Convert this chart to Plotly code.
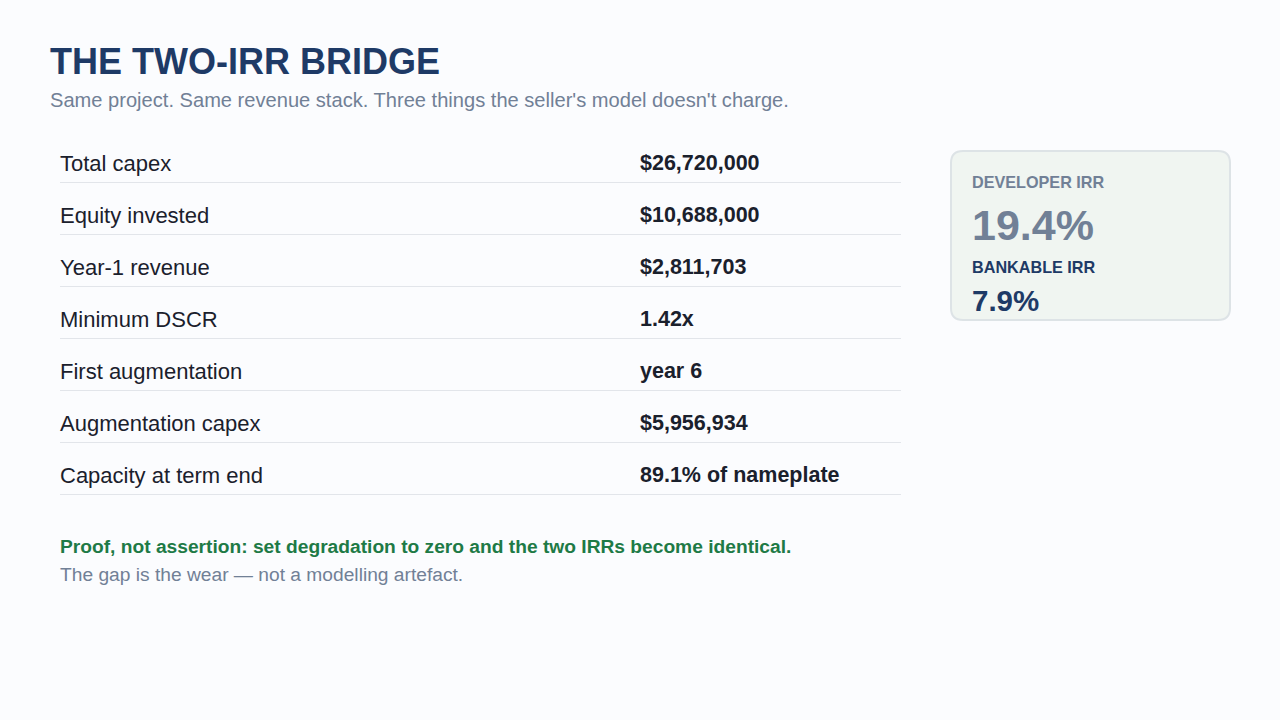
import plotly.graph_objects as go

# slide text / data
title = "THE TWO-IRR BRIDGE"
subtitle = "Same project. Same revenue stack. Three things the seller's model doesn't charge."

row_labels = [
    "Total capex",
    "Equity invested",
    "Year-1 revenue",
    "Minimum DSCR",
    "First augmentation",
    "Augmentation capex",
    "Capacity at term end",
]
row_values = [
    "$26,720,000",
    "$10,688,000",
    "$2,811,703",
    "1.42x",
    "year 6",
    "$5,956,934",
    "89.1% of nameplate",
]

irr_labels = ["DEVELOPER IRR", "BANKABLE IRR"]
irr_values = ["19.4%", "7.9%"]

note_bold = "Proof, not assertion: set degradation to zero and the two IRRs become identical."
note_plain = "The gap is the wear \u2014 not a modelling artefact."

FONT = "Liberation Sans, Arial, sans-serif"
BG = "#fbfcfe"
NAVY = "#1e3a66"
GREY = "#718096"
INK = "#1a202c"
GREEN = "#1e7a46"
RULE = "#e2e5ea"

fig = go.Figure()
annotations = []
shapes = []


def text(x, y, s, size, color, bold=False):
    # annotations carry ~2px of padding, pull them back onto the left edge
    annotations.append(dict(
        x=x - 2, y=y, xref="x", yref="y", text=f"<b>{s}</b>" if bold else s,
        showarrow=False, xanchor="left", yanchor="middle",
        font=dict(family=FONT, size=size, color=color),
    ))


text(50, 61, title, 36, NAVY, bold=True)
text(50, 100, subtitle, 20.1, GREY)

row_top = 137
row_h = 52
for i, (lab, val) in enumerate(zip(row_labels, row_values)):
    yc = row_top + row_h * i + 26
    text(60, yc, lab, 22, INK)
    text(640, yc, val, 21.5, INK, bold=True)
    yl = row_top + row_h * (i + 1) - 6.5
    shapes.append(dict(type="line", xref="x", yref="y", x0=60, x1=901, y0=yl, y1=yl,
                       line=dict(color=RULE, width=1)))

# IRR card
shapes.append(dict(
    type="path", xref="x", yref="y",
    path="M 963,151 L 1218,151 Q 1230,151 1230,163 L 1230,308 Q 1230,320 1218,320 "
         "L 963,320 Q 951,320 951,308 L 951,163 Q 951,151 963,151 Z",
    fillcolor="#f0f5f1", line=dict(color="#dde3e6", width=2), layer="below",
))
text(972, 182, irr_labels[0], 16.2, GREY, bold=True)
text(972, 225, irr_values[0], 43, GREY, bold=True)
text(972, 267, irr_labels[1], 16.2, NAVY, bold=True)
text(972, 300, irr_values[1], 29.5, NAVY, bold=True)

text(60, 546, note_bold, 19.2, GREEN, bold=True)
text(60, 574, note_plain, 19.2, GREY)

fig.update_layout(
    width=1280, height=720,
    margin=dict(l=0, r=0, t=0, b=0),
    paper_bgcolor=BG, plot_bgcolor=BG,
    xaxis=dict(range=[0, 1280], visible=False, fixedrange=True),
    yaxis=dict(range=[720, 0], visible=False, fixedrange=True),
    annotations=annotations, shapes=shapes,
    showlegend=False,
)

fig.write_html(
    "out.html",
    config={"displayModeBar": False},
    post_script=f"document.body.style.margin='0';document.body.style.background='{BG}';"
                "document.body.style.overflow='hidden';",
)
